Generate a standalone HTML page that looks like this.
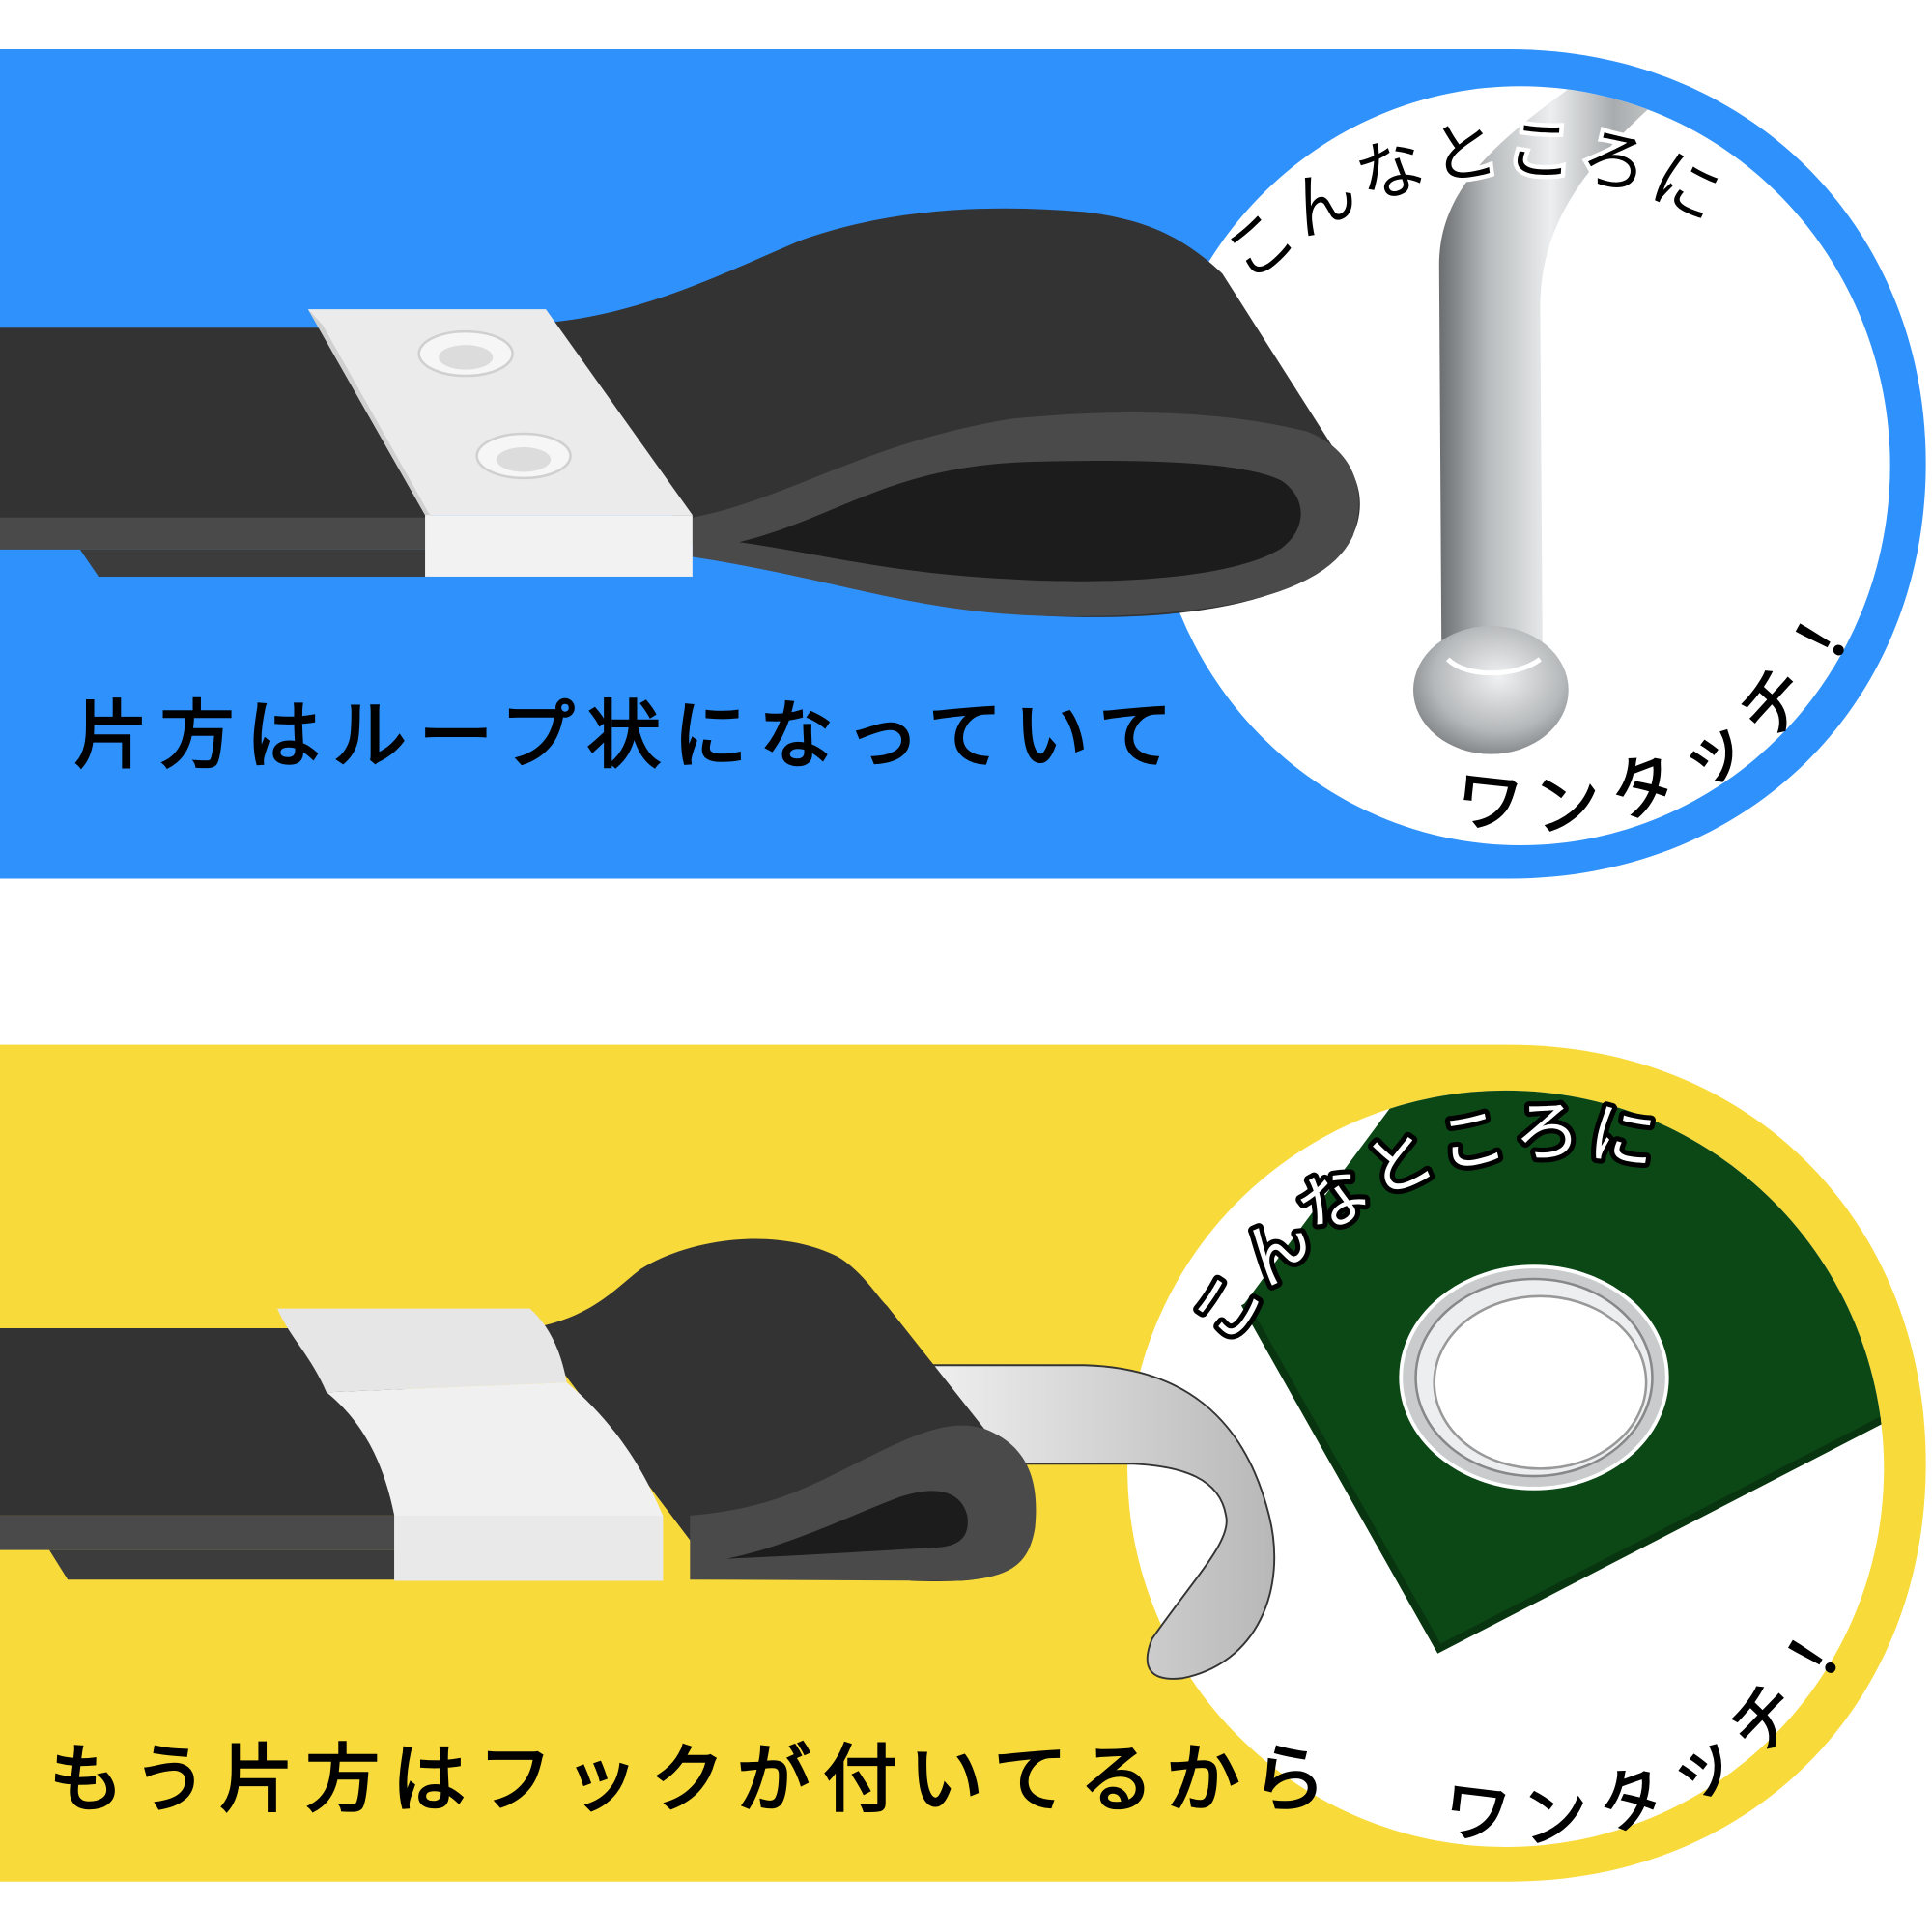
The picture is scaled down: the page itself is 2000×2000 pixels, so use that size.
<!DOCTYPE html>
<html><head><meta charset="utf-8"><style>
html,body{margin:0;padding:0;background:#fff;}
svg{display:block;}
text{font-family:"Liberation Sans","Noto Sans CJK JP",sans-serif;}
</style></head><body>
<svg width="2000" height="2000" viewBox="0 0 1568 1568" xmlns="http://www.w3.org/2000/svg">
<defs>
<linearGradient id="pipe" x1="0" y1="0" x2="1" y2="0">
<stop offset="0" stop-color="#6b6e70"/><stop offset="0.2" stop-color="#b9bcbe"/><stop offset="0.45" stop-color="#eceeef"/><stop offset="0.7" stop-color="#a9acae"/><stop offset="1" stop-color="#d8dadb"/>
</linearGradient>
<radialGradient id="ball" cx="0.55" cy="0.4" r="0.7">
<stop offset="0" stop-color="#f0f1f2"/><stop offset="0.6" stop-color="#b5b8ba"/><stop offset="1" stop-color="#6e7173"/>
</radialGradient>
<linearGradient id="strip" x1="0" y1="0" x2="1" y2="0">
<stop offset="0" stop-color="#f2f2f2"/><stop offset="1" stop-color="#b8b8b8"/>
</linearGradient>
<clipPath id="c1"><ellipse cx="1234" cy="378" rx="300" ry="308"/></clipPath>
<clipPath id="c2"><ellipse cx="1222" cy="1192" rx="307" ry="307"/></clipPath>
<path id="arcT1" d="M1015 232 A300 300 0 0 1 1430 215"/>
<path id="arcB1" d="M1180 665 A290 290 0 0 0 1510 500"/>
<path id="arcT2" d="M998 1095 A300 300 0 0 1 1425 985"/>
<path id="arcB2" d="M1170 1485 A295 295 0 0 0 1505 1325"/>
</defs>

<!-- top blue band -->
<path d="M0 40 H1225 C1420 40 1563 185 1563 376 C1563 570 1420 713 1225 713 H0 Z" fill="#2f91fb"/>
<ellipse cx="1234" cy="378" rx="300" ry="308" fill="#fff"/>

<!-- top belt -->
<path d="M443 262 C520 255 580 225 650 195 C720 170 800 165 880 172 C930 178 960 192 992 222 L1085 368 C1105 385 1110 415 1095 440 C1060 490 960 505 850 500 C760 495 690 470 562 442 Z" fill="#333"/>
<path d="M562 420 C640 405 700 360 820 340 C920 330 1000 335 1060 350 C1100 365 1110 400 1098 435 C1075 485 980 502 850 500 C740 497 680 470 562 452 Z" fill="#4a4a4a"/>
<path d="M600 440 C680 420 720 380 830 375 C930 372 1010 375 1040 390 C1062 405 1060 430 1040 445 C1000 470 900 475 820 470 C720 465 670 450 600 440 Z" fill="#1c1c1c"/>
<rect x="0" y="266" width="350" height="155" fill="#333"/>
<rect x="0" y="420" width="350" height="26" fill="#4a4a4a"/>
<path d="M65 446 H350 V468 H80 Z" fill="#3c3c3c"/>
<polygon points="250,251 443,251 562,418 345,418" fill="#ebebeb"/>
<polygon points="250,251 262,264 350,420 345,418" fill="#d0d0d0"/>
<rect x="345" y="418" width="217" height="50" fill="#f2f2f2"/>
<ellipse cx="378" cy="287" rx="38" ry="18" fill="#f6f6f6" stroke="#d0d0d0" stroke-width="2"/>
<ellipse cx="378" cy="290" rx="22" ry="10" fill="#dcdcdc"/>
<ellipse cx="425" cy="370" rx="38" ry="18" fill="#f6f6f6" stroke="#d0d0d0" stroke-width="2"/>
<ellipse cx="425" cy="373" rx="22" ry="10" fill="#dcdcdc"/>

<!-- top hook -->
<g clip-path="url(#c1)">
<path d="M1170 540 L1168 215 C1168 150 1220 110 1290 60 L1370 60 C1300 120 1250 170 1250 250 L1252 540 Z" fill="url(#pipe)"/>
</g>
<ellipse cx="1210" cy="560" rx="63" ry="52" fill="url(#ball)"/>
<path d="M1175 535 C1190 550 1230 550 1250 535" fill="none" stroke="#fff" stroke-width="4"/>

<text font-size="54" fill="#000" stroke="#fff" stroke-width="7" paint-order="stroke"><textPath href="#arcT1" letter-spacing="4">こんなところに</textPath></text>
<text font-size="54" fill="#000" stroke="#000" stroke-width="1.5"><textPath href="#arcB1" letter-spacing="14">ワンタッチ！</textPath></text>
<text x="60" y="618" font-size="60" fill="#000" stroke="#000" stroke-width="2" letter-spacing="10">片方はループ状になっていて</text>

<!-- bottom yellow band -->
<path d="M0 848 H1225 C1420 848 1563 990 1563 1188 C1563 1385 1420 1527 1225 1527 H0 Z" fill="#f8da3a"/>
<ellipse cx="1222" cy="1192" rx="307" ry="307" fill="#fff"/>
<g clip-path="url(#c2)">
<polygon points="1010,1058 1168,1338 1532,1150 1532,870 1150,870" fill="#0c4716"/>
<polyline points="1010,1058 1168,1338 1532,1150" fill="none" stroke="#08350f" stroke-width="6"/>
<ellipse cx="1245" cy="1118" rx="108" ry="90" fill="#c9cbcc" stroke="#fff" stroke-width="3"/>
<ellipse cx="1245" cy="1118" rx="96" ry="80" fill="#eceeef" stroke="#888" stroke-width="2"/>
<ellipse cx="1250" cy="1122" rx="86" ry="70" fill="#fff" stroke="#999" stroke-width="2"/>
</g>

<!-- bottom belt -->
<path d="M740 1108 H880 C960 1110 1010 1150 1030 1230 C1045 1290 1020 1350 960 1362 C935 1365 925 1355 935 1330 C970 1280 1000 1250 995 1230 C990 1200 960 1190 920 1188 H825 Z" fill="url(#strip)" stroke="#333" stroke-width="1.5"/>
<path d="M430 1078 C480 1070 500 1045 520 1030 C560 1005 630 995 680 1020 C700 1032 710 1050 720 1060 L815 1180 C835 1200 840 1230 830 1260 C815 1280 800 1285 740 1283 L560 1250 Z" fill="#333"/>
<path d="M560 1230 C620 1225 650 1210 690 1190 C740 1165 770 1150 800 1160 C825 1170 845 1190 840 1240 C835 1270 820 1280 780 1283 L560 1282 Z" fill="#4a4a4a"/>
<path d="M590 1265 C640 1255 690 1230 730 1215 C760 1205 780 1210 785 1230 C788 1250 775 1255 760 1256 C720 1258 660 1262 590 1265 Z" fill="#1c1c1c"/>
<rect x="0" y="1078" width="330" height="152" fill="#333"/>
<rect x="0" y="1230" width="330" height="28" fill="#4a4a4a"/>
<path d="M40 1258 H330 V1282 H55 Z" fill="#3c3c3c"/>
<path d="M225 1062 H430 C445 1075 455 1095 460 1122 L265 1130 C252 1100 235 1085 225 1062 Z" fill="#e6e6e6"/>
<path d="M265 1130 L460 1122 C505 1160 525 1200 538 1230 V1283 H320 V1230 C310 1180 290 1150 265 1130 Z" fill="#f0f0f0"/>
<path d="M320 1230 H538 V1283 H320 Z" fill="#e9e9e9"/>

<text font-size="54" fill="#fff" stroke="#000" stroke-width="8" paint-order="stroke" stroke-linejoin="round"><textPath href="#arcT2" letter-spacing="4">こんなところに</textPath></text>
<text font-size="54" fill="#000" stroke="#000" stroke-width="1.5"><textPath href="#arcB2" letter-spacing="14">ワンタッチ！</textPath></text>
<text x="40" y="1465" font-size="60" fill="#000" stroke="#000" stroke-width="2" letter-spacing="10">もう片方はフックが付いてるから</text>
</svg>
</body></html>
